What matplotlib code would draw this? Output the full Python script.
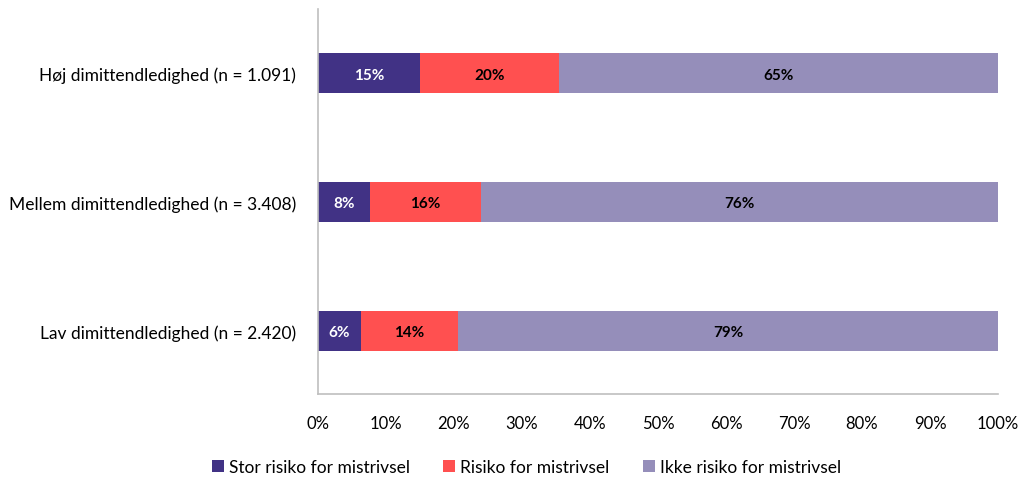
import matplotlib.pyplot as plt
from matplotlib.ticker import PercentFormatter

groups = ["Lav dimittendledighed (n = 2.420)",
          "Mellem dimittendledighed (n = 3.408)",
          "Høj dimittendledighed (n = 1.091)"]
stor = [6.3, 7.6, 15.0]
risiko = [14.3, 16.4, 20.4]
ikke = [79.4, 76.0, 64.6]

series = ["Stor risiko for mistrivsel", "Risiko for mistrivsel", "Ikke risiko for mistrivsel"]
colors = ["#413285", "#FF5050", "#958EBA"]
text_colors = ["white", "black", "black"]

plt.rcParams["font.family"] = ["Lato", "DejaVu Sans"]

fig = plt.figure(figsize=(10.28, 4.81), dpi=100)
ax = fig.add_axes([318 / 1028, 1 - 395 / 481, 680 / 1028, 385 / 481])

ypos = range(len(groups))
left = [0, 0, 0]
for name, vals, col, tcol in zip(series, [stor, risiko, ikke], colors, text_colors):
    bars = ax.barh(ypos, vals, left=left, height=0.31, color=col, label=name)
    for b, v in zip(bars, vals):
        ax.text(b.get_x() + b.get_width() / 2, b.get_y() + b.get_height() / 2 - 0.01,
                f"{v:.0f}%", ha="center", va="center", color=tcol,
                fontsize=11, fontweight="bold")
    left = [l + v for l, v in zip(left, vals)]

ax.set_xlim(0, 100)
ax.set_ylim(-0.49, 2.5)
ax.set_xticks(range(0, 101, 10))
ax.xaxis.set_major_formatter(PercentFormatter(decimals=0))
ax.tick_params(axis="x", length=0, labelsize=12, pad=15)
ax.tick_params(axis="y", length=0, labelsize=12.5, pad=16)
ax.set_yticks(list(ypos))
ax.set_yticklabels(groups)

for s in ["top", "right"]:
    ax.spines[s].set_visible(False)
for s in ["left", "bottom"]:
    ax.spines[s].set_color("#BFBFBF")
    ax.spines[s].set_linewidth(1.2)

fig.legend(loc="lower center", bbox_to_anchor=(0.512, -0.022), ncol=3, frameon=False,
           fontsize=12.5, handlelength=0.7, handleheight=0.7, handletextpad=0.3,
           columnspacing=1.9)

fig.savefig("out.png", dpi=100)
